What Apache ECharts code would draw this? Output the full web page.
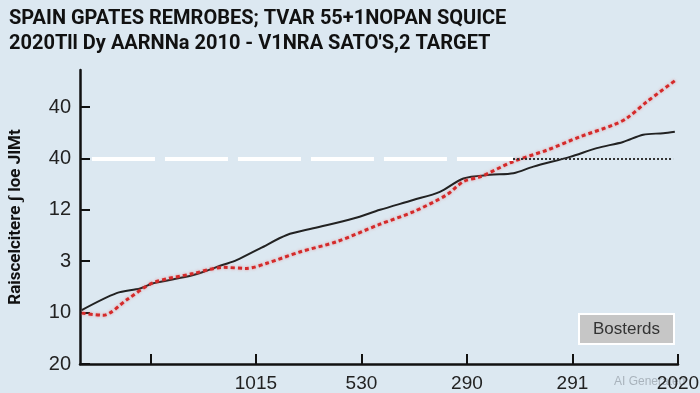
<!DOCTYPE html>
<html>
<head>
<meta charset="utf-8">
<script src="https://cdn.jsdelivr.net/npm/echarts@6/dist/echarts.min.js"></script>
<style>html,body{margin:0;padding:0;background:#dce8f1;}#c{width:700px;height:393px;}</style>
</head>
<body>
<div id="c"></div>
<script>
// ---- data ----
const titleLines = ["SPAIN GPATES REMROBES; TVAR 55+1NOPAN SQUICE", "2020Tll Dy AARNNa 2010 - V1NRA SATO'S,2 TARGET"];
const yAxisName = "Raiscelcitere \u0283 loe JIMt";
const yTickValues = [0, 1, 2, 3, 4, 5];
const yTickLabels = ["20", "10", "3", "12", "40", "40"];
const xTickValues = [2, 5, 8, 11, 14, 17];
const xTickLabels = ["", "1015", "530", "290", "291", "2020"];
const legendText = "Bosterds";

const blackX = [0.05, 1.04, 1.71, 2.08, 3.22, 4.07, 4.45, 5.12, 5.88, 6.63, 7.77, 8.53, 9.47, 10.23, 10.90, 11.65, 12.32, 12.89, 13.93, 14.69, 15.44, 16.01, 16.58, 16.91];
const blackY = [1.05, 1.38, 1.47, 1.57, 1.73, 1.93, 2.02, 2.25, 2.51, 2.64, 2.83, 3.00, 3.19, 3.35, 3.61, 3.68, 3.71, 3.84, 4.03, 4.20, 4.32, 4.46, 4.49, 4.52];
const redX = [0.05, 0.66, 1.33, 2.08, 3.22, 4.07, 4.74, 5.31, 6.25, 7.30, 8.53, 9.47, 10.42, 10.90, 11.37, 12.32, 13.27, 14.21, 15.16, 15.54, 16.11, 16.91];
const redY = [0.99, 0.95, 1.25, 1.58, 1.76, 1.88, 1.86, 1.96, 2.18, 2.38, 2.72, 2.96, 3.29, 3.55, 3.64, 3.94, 4.16, 4.42, 4.65, 4.78, 5.10, 5.51];

const targetLevel = 4;
const targetDashedFrom = 0.34, targetDashedTo = 12.31;
const targetDottedFrom = 12.31, targetDottedTo = 16.86;

const zip = (xs, ys) => xs.map((x, i) => [x, ys[i]]);

const chart = echarts.init(document.getElementById('c'));
chart.setOption({
  backgroundColor: '#dce8f1',
  animation: false,
  title: {
    text: titleLines.join('\n'),
    left: 4, top: 1,
    textStyle: { fontFamily: 'Roboto', fontWeight: 'bold', fontSize: 20, lineHeight: 25, color: '#111' }
  },
  grid: { left: 80, right: 22, top: 70, bottom: 29, outerBoundsMode: 'none', containLabel: false },
  xAxis: {
    type: 'value', min: 0, max: 17,
    splitLine: { show: false },
    axisLine: { lineStyle: { color: '#111', width: 2.5 } },
    axisTick: { inside: true, length: 10, lineStyle: { color: '#111', width: 2 }, customValues: xTickValues },
    axisLabel: {
      customValues: xTickValues,
      formatter: v => { const i = xTickValues.indexOf(v); return i >= 0 ? xTickLabels[i] : ''; },
      fontFamily: 'Liberation Sans', fontSize: 19, color: '#222', margin: 10
    }
  },
  yAxis: {
    type: 'value', min: 0, max: 5.72,
    name: yAxisName, nameLocation: 'middle', nameRotate: 90, nameGap: 56,
    nameTextStyle: { fontFamily: 'Roboto', fontWeight: 'bold', fontSize: 17, color: '#111' },
    splitLine: { show: false },
    axisLine: { lineStyle: { color: '#111', width: 2.5 } },
    axisTick: { inside: true, length: 10, lineStyle: { color: '#111', width: 2 }, customValues: yTickValues },
    axisLabel: {
      customValues: yTickValues,
      formatter: v => { const i = yTickValues.indexOf(v); return i >= 0 ? yTickLabels[i] : ''; },
      fontFamily: 'Liberation Sans', fontSize: 20, color: '#222', margin: 9
    }
  },
  series: [
    {
      type: 'line', name: 'black', data: zip(blackX, blackY), smooth: 0.3, symbol: 'none',
      lineStyle: { color: '#222', width: 2 },
      z: 3,
      markLine: {
        silent: true, symbol: ['none', 'none'], label: { show: false },
        data: [
          [{ coord: [targetDashedFrom, targetLevel], lineStyle: { color: '#ffffff', width: 4, type: [63, 10] } }, { coord: [targetDashedTo, targetLevel] }],
          [{ coord: [targetDottedFrom, targetLevel], lineStyle: { color: '#333', width: 2, type: [2, 2] } }, { coord: [targetDottedTo, targetLevel] }]
        ]
      }
    },
    {
      type: 'line', name: 'red', data: zip(redX, redY), smooth: 0.3, symbol: 'none',
      lineStyle: { color: '#d42a2a', width: 3, type: [4, 3], shadowColor: 'rgba(235,90,90,0.6)', shadowBlur: 3 },
      z: 4
    }
  ],
  graphic: [
    {
      type: 'group', left: 578, top: 313,
      children: [
        { type: 'rect', shape: { x: 0, y: 0, width: 95, height: 30 }, style: { fill: '#c6c6c6', stroke: '#ffffff', lineWidth: 2 } },
        { type: 'text', x: 47.5, y: 15, style: { text: legendText, fontFamily: 'Liberation Sans', fontSize: 17, fill: '#333', align: 'center', verticalAlign: 'middle' } }
      ]
    },
    {
      type: 'text', left: 614, top: 376,
      style: { text: 'AI Generated', fontFamily: 'Liberation Sans', fontSize: 12, fill: '#a9b3bc' }, z: -1
    }
  ]
});
</script>
</body>
</html>
